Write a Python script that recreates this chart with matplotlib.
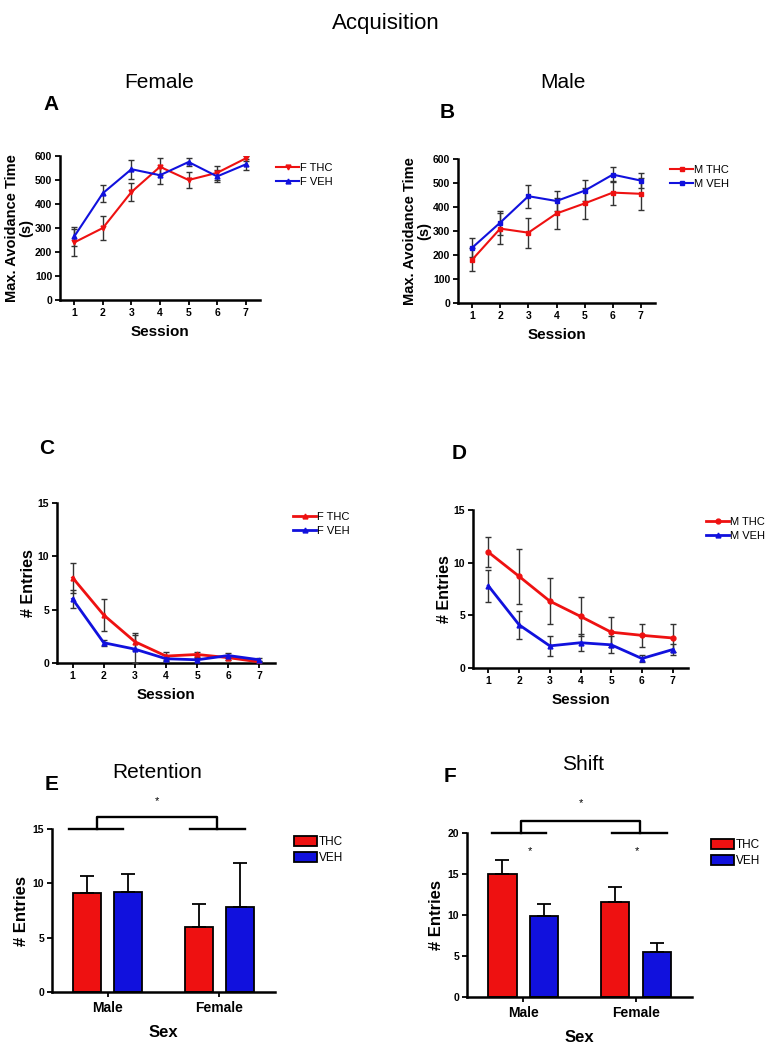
import matplotlib
matplotlib.use("Agg")
import matplotlib.pyplot as plt
import numpy as np

plt.rcParams['font.family'] = ['Liberation Sans', 'DejaVu Sans']

# ---- data ----
sessions = [1, 2, 3, 4, 5, 6, 7]

# A: female max avoidance time
f_thc_time = [240, 300, 450, 555, 500, 530, 590]
f_thc_time_err = [55, 50, 38, 35, 35, 30, 10]
f_veh_time = [265, 445, 545, 520, 575, 515, 565]
f_veh_time_err = [40, 35, 40, 35, 18, 25, 22]

# B: male max avoidance time
m_thc_time = [180, 310, 293, 373, 415, 460, 455]
m_thc_time_err = [48, 65, 63, 65, 65, 50, 67]
m_veh_time = [230, 335, 445, 425, 468, 535, 510]
m_veh_time_err = [40, 50, 48, 42, 45, 30, 30]

# C: female entries
f_thc_ent = [8.0, 4.5, 2.0, 0.65, 0.8, 0.5, 0.1]
f_thc_ent_err = [1.4, 1.5, 0.8, 0.35, 0.2, 0.2, 0.1]
f_veh_ent = [6.0, 1.9, 1.3, 0.4, 0.3, 0.7, 0.3]
f_veh_ent_err = [0.8, 0.3, 1.3, 0.2, 0.2, 0.2, 0.15]

# D: male entries
m_thc_ent = [11.0, 8.7, 6.35, 4.9, 3.4, 3.1, 2.85]
m_thc_ent_err = [1.4, 2.6, 2.15, 1.85, 1.4, 1.1, 1.3]
m_veh_ent = [7.8, 4.1, 2.1, 2.4, 2.2, 0.9, 1.75]
m_veh_ent_err = [1.55, 1.3, 0.95, 0.8, 0.8, 0.3, 0.5]

# E / F bars
sexes = ['Male', 'Female']
ret_thc = [9.1, 6.0]
ret_thc_err = [1.6, 2.1]
ret_veh = [9.2, 7.8]
ret_veh_err = [1.7, 4.1]
shift_thc = [15.0, 11.6]
shift_thc_err = [1.7, 1.8]
shift_veh = [9.9, 5.5]
shift_veh_err = [1.4, 1.1]

RED = '#ee1111'
BLUE = '#1111dd'
W, H = 773, 1050

fig = plt.figure(figsize=(W / 100, H / 100), dpi=100)


def rect(l, t, r, b):
    return [l / W, 1 - b / H, (r - l) / W, (b - t) / H]


def ftext(x, y, s, **kw):
    fig.text(x / W, 1 - y / H, s, ha='center', va='center', **kw)


def style(ax):
    for s in ['top', 'right']:
        ax.spines[s].set_visible(False)
    for s in ['left', 'bottom']:
        ax.spines[s].set_linewidth(1.8)
    ax.tick_params(width=1.3, length=3.5, labelsize=7.5, pad=2)
    for lab in ax.get_xticklabels() + ax.get_yticklabels():
        lab.set_fontweight('bold')


def line_panel(ax, y1, e1, y2, e2, labels, m1, m2, lw, ylim, yticks, ylabel, leg_xy, ysize=11.5):
    ax.errorbar(sessions, y1, yerr=e1, color=RED, ecolor='#333333', marker=m1,
                ms=3.5, lw=lw, elinewidth=1, capsize=2.5, capthick=1, label=labels[0], zorder=3)
    ax.errorbar(sessions, y2, yerr=e2, color=BLUE, ecolor='#333333', marker=m2,
                ms=3.5, lw=lw, elinewidth=1, capsize=2.5, capthick=1, label=labels[1], zorder=3)
    ax.set_xlim(0.5, 7.5)
    ax.set_ylim(*ylim)
    ax.set_xticks(sessions)
    ax.set_yticks(yticks)
    ax.set_xlabel('Session', fontsize=11, fontweight='bold', labelpad=5)
    ax.set_ylabel(ylabel, fontsize=ysize, fontweight='bold', labelpad=1, linespacing=1.1)
    style(ax)
    handles, labs = ax.get_legend_handles_labels()
    handles = [h[0] for h in handles]
    ax.legend(handles, labs, loc='center left', bbox_to_anchor=(leg_xy[0] / W, 1 - leg_xy[1] / H),
              bbox_transform=fig.transFigure, frameon=False, fontsize=8,
              handlelength=2.0, handletextpad=0.1, labelspacing=0.35, borderaxespad=0)


# ---- A ----
axA = fig.add_axes(rect(60, 156, 260, 300))
line_panel(axA, f_thc_time, f_thc_time_err, f_veh_time, f_veh_time_err,
           ['F THC', 'F VEH'], 'v', '^', 1.5, (0, 600), range(0, 601, 100),
           'Max. Avoidance Time\n(s)', (272, 175), ysize=10.5)

# ---- B ----
axB = fig.add_axes(rect(458, 159, 655, 303))
line_panel(axB, m_thc_time, m_thc_time_err, m_veh_time, m_veh_time_err,
           ['M THC', 'M VEH'], 's', 's', 1.5, (0, 600), range(0, 601, 100),
           'Max. Avoidance Time\n(s)', (666, 177), ysize=10.5)

# ---- C ----
axC = fig.add_axes(rect(57, 503, 275, 663))
line_panel(axC, f_thc_ent, f_thc_ent_err, f_veh_ent, f_veh_ent_err,
           ['F THC', 'F VEH'], '^', '^', 2, (0, 15), [0, 5, 10, 15],
           '# Entries', (289, 524))

# ---- D ----
axD = fig.add_axes(rect(473, 510, 688, 668))
line_panel(axD, m_thc_ent, m_thc_ent_err, m_veh_ent, m_veh_ent_err,
           ['M THC', 'M VEH'], 'o', '^', 2, (0, 15), [0, 5, 10, 15],
           '# Entries', (702, 529))


def bar_panel(ax, thc, thc_err, veh, veh_err, ylim, yticks, leg_xy):
    x = np.arange(len(sexes))
    ax.bar(x - 0.185, thc, 0.25, color=RED, edgecolor='black', lw=1.3, label='THC',
           yerr=[np.zeros(len(thc)), thc_err],
           error_kw=dict(ecolor='black', elinewidth=1.3, capsize=5, capthick=1.3))
    ax.bar(x + 0.185, veh, 0.25, color=BLUE, edgecolor='black', lw=1.3, label='VEH',
           yerr=[np.zeros(len(veh)), veh_err],
           error_kw=dict(ecolor='black', elinewidth=1.3, capsize=5, capthick=1.3))
    ax.set_xlim(-0.5, 1.5)
    ax.set_ylim(*ylim)
    ax.set_xticks(x)
    ax.set_xticklabels(sexes)
    ax.set_yticks(yticks)
    ax.set_xlabel('Sex', fontsize=12, fontweight='bold', labelpad=7)
    ax.set_ylabel('# Entries', fontsize=12, fontweight='bold', labelpad=3)
    style(ax)
    ax.tick_params(axis='x', labelsize=10, pad=3)
    ax.legend(loc='center left', bbox_to_anchor=(leg_xy[0] / W, 1 - leg_xy[1] / H),
              bbox_transform=fig.transFigure, frameon=False, fontsize=8.5,
              handlelength=2.0, handleheight=0.9, handletextpad=0.1, labelspacing=0.3,
              borderaxespad=0)


def bracket(ax, base, top, star_y, segs, verts):
    kw = dict(color='black', lw=1.7, clip_on=False)
    for a, b in segs:
        ax.plot([a, b], [base, base], **kw)
    ax.plot([verts[0], verts[0], verts[1], verts[1]], [base, top, top, base], **kw)
    ax.text(sum(verts) / 2, star_y, '*', ha='center', va='center', fontsize=8)


# ---- E ----
axE = fig.add_axes(rect(52, 829, 275, 992))
bar_panel(axE, ret_thc, ret_thc_err, ret_veh, ret_veh_err, (0, 15), [0, 5, 10, 15], (289, 850))
bracket(axE, 15, 16.1, 17.6, [(-0.35, 0.14), (0.74, 1.23)], (-0.1, 0.98))

# ---- F ----
axF = fig.add_axes(rect(467, 833, 692, 997))
bar_panel(axF, shift_thc, shift_thc_err, shift_veh, shift_veh_err, (0, 20), [0, 5, 10, 15, 20], (706, 853))
bracket(axF, 20, 21.5, 23.6, [(-0.28, 0.2), (0.79, 1.28)], (-0.02, 1.04))
axF.text(0.06, 17.8, '*', ha='center', va='center', fontsize=8)
axF.text(1.01, 17.8, '*', ha='center', va='center', fontsize=8)

# ---- titles and panel letters ----
ftext(386, 24, 'Acquisition', fontsize=16)
ftext(159, 83, 'Female', fontsize=15)
ftext(563, 82, 'Male', fontsize=15)
ftext(157, 772, 'Retention', fontsize=15)
ftext(583, 765, 'Shift', fontsize=15)
for x, y, s in [(51, 105, 'A'), (447, 113, 'B'), (47, 448, 'C'), (459, 453, 'D'),
                (52, 784, 'E'), (450, 777, 'F')]:
    ftext(x, y, s, fontsize=15, fontweight='bold')

fig.savefig('out.png', dpi=100)
